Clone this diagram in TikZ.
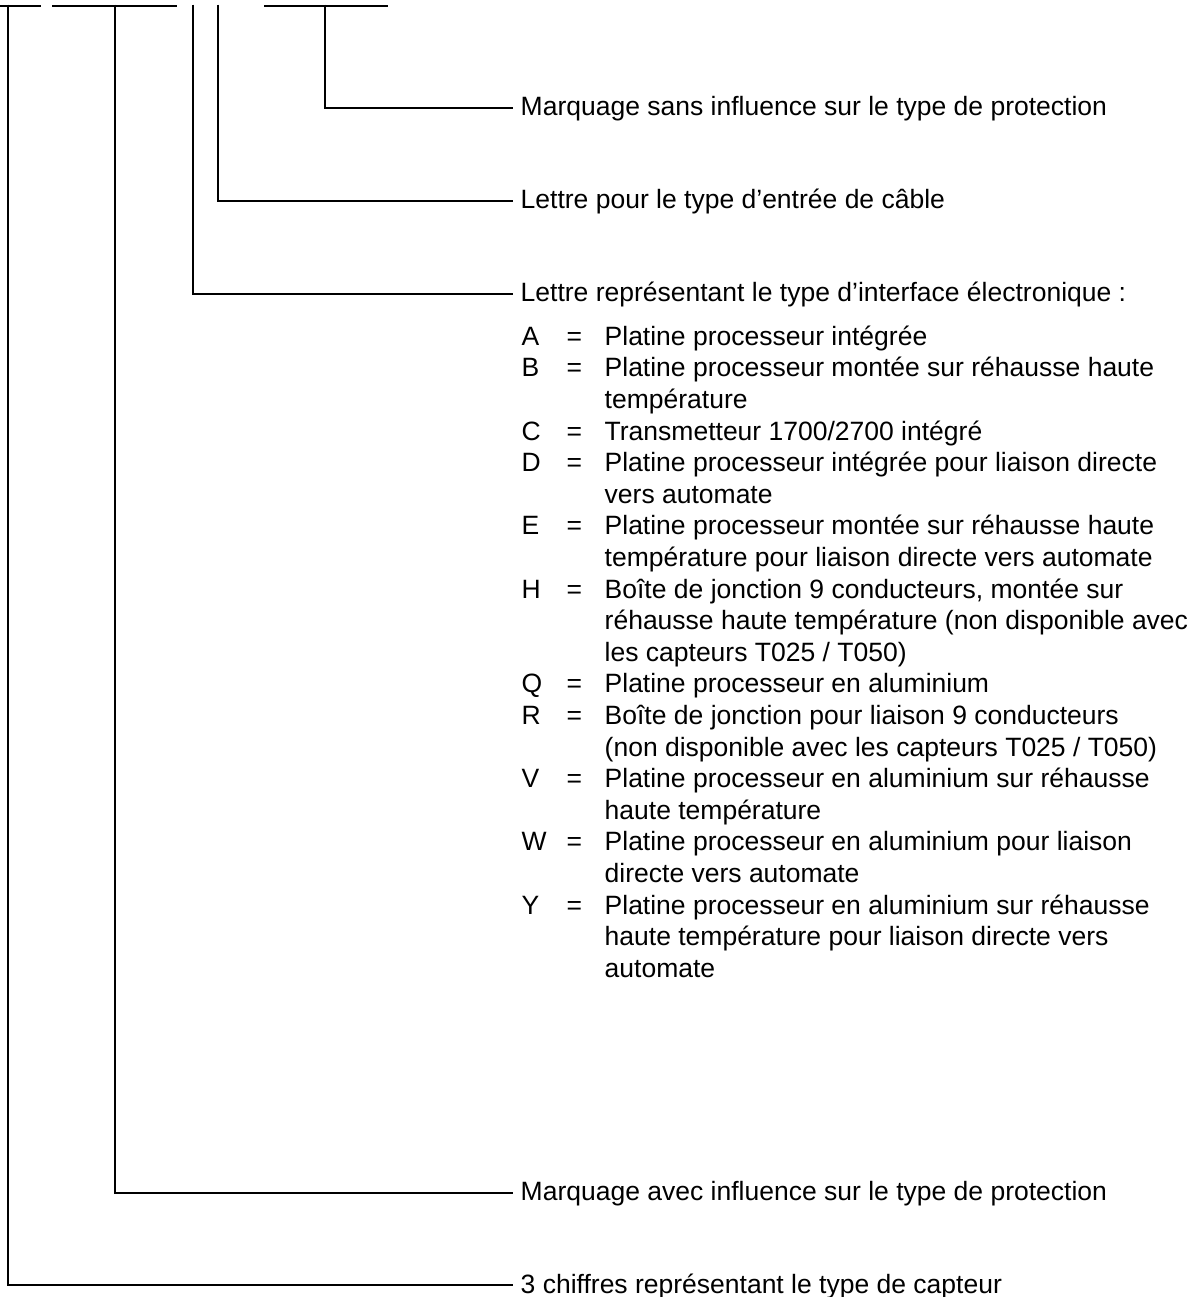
\documentclass[tikz,border=0pt]{standalone}
\usepackage{fontspec}
\setmainfont{Liberation Sans}
\usepackage{tikz}
\usetikzlibrary{positioning}

\begin{document}
\begin{tikzpicture}[x=1pt, y=-1pt,
    lead/.style={line width=2pt},
    lbl/.style={anchor=west, inner xsep=8pt, inner ysep=0pt,
      text height=18pt, text depth=2pt,
      font=\fontsize{26.5}{31.6}\selectfont},
    codelist/.style={anchor=north west, inner sep=0pt, align=left,
      font=\fontsize{26.5}{31.6}\selectfont}]
  \useasboundingbox (0,0) rectangle (1192,1297);

  % Labels
  \node[lbl] (sans)   at (512.5,108) {Marquage sans influence sur le type de protection};
  \node[lbl] (cable)  at (512.5,201) {Lettre pour le type d’entrée de câble};
  \node[lbl] (iface)  at (512.5,293.5) {Lettre représentant le type d’interface électronique :};
  \node[lbl] (avec)   at (512.5,1192.5) {Marquage avec influence sur le type de protection};
  \node[lbl] (capteur) at (512.5,1285) {3 chiffres représentant le type de capteur};

  % Letter codes
  \node[codelist] (codes) at (521.5,323) {%
    \begin{tabular}{@{}p{45pt}@{}p{38pt}@{}l@{}}
      A & = & Platine processeur intégrée\\
      B & = & Platine processeur montée sur réhausse haute\\
        &   & température\\
      C & = & Transmetteur 1700/2700 intégré\\
      D & = & Platine processeur intégrée pour liaison directe\\
        &   & vers automate\\
      E & = & Platine processeur montée sur réhausse haute\\
        &   & température pour liaison directe vers automate\\
      H & = & Boîte de jonction 9 conducteurs, montée sur\\
        &   & réhausse haute température (non disponible avec\\
        &   & les capteurs T025 / T050)\\
      Q & = & Platine processeur en aluminium\\
      R & = & Boîte de jonction pour liaison 9 conducteurs\\
        &   & (non disponible avec les capteurs T025 / T050)\\
      V & = & Platine processeur en aluminium sur réhausse\\
        &   & haute température\\
      W & = & Platine processeur en aluminium pour liaison\\
        &   & directe vers automate\\
      Y & = & Platine processeur en aluminium sur réhausse\\
        &   & haute température pour liaison directe vers\\
        &   & automate\\
    \end{tabular}};

  % Code groups along the top
  \draw[lead] (0,5.7) -- (41,5.7);
  \draw[lead] (52.3,5.7) -- (176.7,5.7);
  \draw[lead] (264,5.7) -- (387.7,5.7);

  % Leaders
  \draw[lead] (8.3,4.7) |- (capteur.west);
  \draw[lead] (115,4.7) |- (avec.west);
  \draw[lead] (192.7,4.7) |- (iface.west);
  \draw[lead] (218.3,4.7) |- (cable.west);
  \draw[lead] (325,4.7) |- (sans.west);
\end{tikzpicture}
\end{document}
